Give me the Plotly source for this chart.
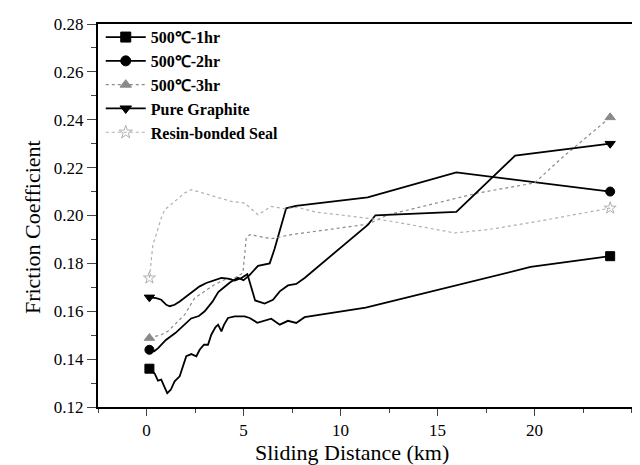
import plotly.graph_objects as go

# ---- data ----
x_1hr = [0.15, 0.42, 0.59, 0.76, 0.90, 1.07, 1.25, 1.45, 1.71, 1.88, 2.05, 2.31, 2.57, 2.74, 2.96, 3.17,
         3.34, 3.55, 3.69, 3.86, 4.0, 4.2, 4.55, 5.06, 5.32, 5.71, 6.43, 6.87, 7.29, 7.72, 8.15, 11.3, 19.8, 23.9]
y_1hr = [0.136, 0.134, 0.131, 0.1314, 0.1288, 0.1258, 0.1272, 0.1307, 0.1328, 0.137, 0.1412, 0.1421, 0.1412,
         0.1439, 0.146, 0.146, 0.1502, 0.1533, 0.1544, 0.1516, 0.1544, 0.1572, 0.1579, 0.1579, 0.1572, 0.1552,
         0.1569, 0.1544, 0.156, 0.1551, 0.1575, 0.1615, 0.1785, 0.183]

x_2hr = [0.15, 0.4, 0.6, 1.0, 1.5, 2.0, 2.3, 2.7, 3.0, 3.4, 3.7, 4.0, 4.3, 4.7, 5.0, 5.3, 5.75, 6.35, 6.6,
         7.2, 7.7, 11.4, 15.97, 23.9]
y_2hr = [0.1439, 0.1433, 0.1446, 0.148, 0.151, 0.155, 0.157, 0.158, 0.160, 0.164, 0.168, 0.170, 0.172,
         0.174, 0.173, 0.175, 0.179, 0.180, 0.186, 0.203, 0.204, 0.2076, 0.218, 0.210]

x_3hr = [0.15, 0.76, 1.1, 1.62, 1.97, 2.48, 3.0, 3.5, 4.03, 4.55, 4.97, 5.14, 5.32, 6.43, 7.46, 10.04,
         11.42, 12.45, 17.09, 20.0, 21.4, 23.9]
y_3hr = [0.1488, 0.1502, 0.1516, 0.1558, 0.1586, 0.1655, 0.1683, 0.1711, 0.1732, 0.1739, 0.176, 0.1906,
         0.192, 0.1903, 0.192, 0.1948, 0.1964, 0.2003, 0.2094, 0.2136, 0.224, 0.241]

x_pg = [0.15, 0.5, 0.76, 1.02, 1.2, 1.45, 1.71, 2.05, 2.4, 2.74, 3.08, 3.43, 3.86, 4.2, 4.55, 4.89, 5.2,
        5.4, 5.6, 6.09, 6.52, 6.87, 7.29, 7.72, 8.15, 11.42, 11.8, 15.97, 19.0, 23.9]
y_pg = [0.1658, 0.1655, 0.1648, 0.1627, 0.1621, 0.1627, 0.1641, 0.1662, 0.1683, 0.1704, 0.1718, 0.1728,
        0.1739, 0.1736, 0.1728, 0.1739, 0.1755, 0.170, 0.1645, 0.1632, 0.1648, 0.1683, 0.1708, 0.1714,
        0.1739, 0.1962, 0.2001, 0.2015, 0.225, 0.230]

x_rs = [0.15, 0.33, 0.5, 0.76, 0.94, 1.45, 1.97, 2.31, 2.74, 3.69, 4.37, 5.06, 5.75, 6.43, 7.12, 7.81,
        8.67, 10.13, 11.25, 12.62, 15.9, 17.6, 20.2, 23.9]
y_rs = [0.1739, 0.1878, 0.192, 0.199, 0.2024, 0.2059, 0.2094, 0.2108, 0.2098, 0.2073, 0.2059, 0.2052,
        0.2003, 0.2038, 0.2028, 0.2034, 0.2015, 0.2001, 0.1989, 0.1976, 0.1927, 0.1941, 0.1976, 0.2031]

names = ["500℃-1hr", "500℃-2hr", "500℃-3hr", "Pure Graphite", "Resin-bonded Seal"]
xs = [x_1hr, x_2hr, x_3hr, x_pg, x_rs]
ys = [y_1hr, y_2hr, y_3hr, y_pg, y_rs]
colors = ["#000000", "#000000", "#8a8a8a", "#000000", "#b0b0b0"]
dashes = ["solid", "solid", "dot", "solid", "dot"]
widths = [1.8, 1.8, 1.2, 1.8, 1.2]
symbols = ["square", "circle", "triangle-up", "triangle-down", "star-open"]

SERIF = "Times New Roman"

fig = go.Figure()
for name, x, y, c, d, w, s in zip(names, xs, ys, colors, dashes, widths, symbols):
    fig.add_trace(go.Scatter(x=x, y=y, mode="lines", line=dict(color=c, dash=d, width=w),
                             showlegend=False, hoverinfo="skip"))
    fig.add_trace(go.Scatter(x=[x[0], x[-1]], y=[y[0], y[-1]], mode="markers",
                             marker=dict(symbol=s, size=9, color=c, line=dict(color=c, width=1)),
                             showlegend=False, hoverinfo="skip"))
    fig.add_trace(go.Scatter(x=[None], y=[None], mode="lines+markers", name=name,
                             line=dict(color=c, dash=d, width=w),
                             marker=dict(symbol=s, size=10, color=c, line=dict(color=c, width=1))))

fig.update_layout(
    width=640, height=465,
    margin=dict(l=90, r=0, t=16, b=66),
    paper_bgcolor="white", plot_bgcolor="white",
    font=dict(family=SERIF, color="black"),
    legend=dict(x=0.005, y=1.01, xanchor="left", yanchor="top", bgcolor="rgba(0,0,0,0)",
                font=dict(family="Liberation Serif", size=16, color="black", weight="bold"),
                itemwidth=40, tracegroupgap=0),
    xaxis=dict(range=[-2.5, 25.85], tickvals=[0, 5, 10, 15, 20], ticks="outside", ticklen=7,
               tickwidth=1.2, showline=True, linewidth=2, linecolor="black", mirror=True,
               showgrid=False, zeroline=False, tickfont=dict(family=SERIF, size=17),
               minor=dict(dtick=2.5, tick0=0, ticks="outside", ticklen=4, tickwidth=1)),
    yaxis=dict(range=[0.12, 0.28], dtick=0.02, tickformat=".2f", ticks="outside", ticklen=9,
               tickwidth=1.2, showline=True, linewidth=2, linecolor="black", mirror=False,
               showgrid=False, zeroline=False, tickfont=dict(family=SERIF, size=17),
               minor=dict(dtick=0.01, ticks="outside", ticklen=5, tickwidth=1)),
    annotations=[
        dict(text="Sliding Distance (km)", xref="paper", yref="paper", x=0.462, y=-0.12,
             xanchor="center", yanchor="middle", showarrow=False,
             font=dict(family=SERIF, size=22)),
        dict(text="Friction Coefficient", xref="paper", yref="paper", x=-0.118, y=0.47,
             xanchor="center", yanchor="middle", textangle=-90, showarrow=False,
             font=dict(family=SERIF, size=22)),
    ],
)

fig.write_html("out.html")
